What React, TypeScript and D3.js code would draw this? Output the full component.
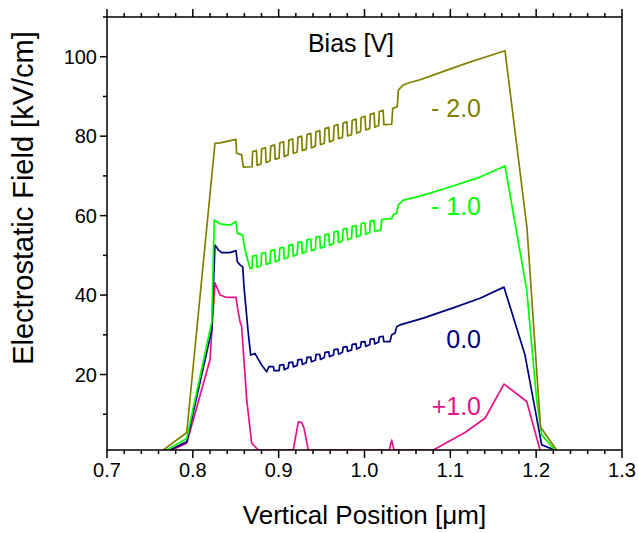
import React from 'react';
import * as d3 from 'd3';

const W = 639;
const H = 533;
const plotLeft = 107;
const plotRight = 622;
const plotTop = 17;
const plotBottom = 450;

const xDomain: [number, number] = [0.7, 1.3];
const yDomain: [number, number] = [1, 110];
const xMajorTicks = [0.7, 0.8, 0.9, 1.0, 1.1, 1.2, 1.3];
const xTickLabels = ['0.7', '0.8', '0.9', '1.0', '1.1', '1.2', '1.3'];
const yMajorTicks = [20, 40, 60, 80, 100];
const yTickLabels = ['20', '40', '60', '80', '100'];
const yMinorTicks = [10, 30, 50, 70, 90, 110];

const seriesNames = ['- 2.0', '- 1.0', '0.0', '+1.0'];
const seriesColors = ['#808000', '#00ff00', '#000080', '#e8128a'];
const labelY = [117, 215, 348, 415];

const biasM2: [number, number][] = [
  [0.7656, 1], [0.7929, 5.4], [0.8258, 78.2], [0.8317, 78.3], [0.8503, 79.2], [0.8509, 75.7], [0.8569, 75.3], [0.8588, 72.2],
  [0.8689, 72.3], [0.8697, 76.1], [0.8741, 76.4], [0.8749, 72.65],
  [0.8794, 73.0], [0.8802, 76.8], [0.8846, 77.1], [0.8854, 73.35],
  [0.8900, 73.8], [0.8908, 77.5], [0.8952, 77.8], [0.8960, 74.15],
  [0.9005, 74.5], [0.9013, 78.3], [0.9057, 78.6], [0.9065, 74.85],
  [0.9111, 75.3], [0.9119, 79.0], [0.9163, 79.3], [0.9171, 75.65],
  [0.9216, 76.0], [0.9224, 79.7], [0.9268, 80.0], [0.9276, 76.35],
  [0.9322, 76.7], [0.9330, 80.4], [0.9374, 80.7], [0.9382, 77.05],
  [0.9427, 77.5], [0.9435, 81.1], [0.9479, 81.4], [0.9487, 77.85],
  [0.9532, 78.2], [0.9540, 81.9], [0.9584, 82.2], [0.9592, 78.55],
  [0.9638, 79.0], [0.9646, 82.6], [0.9690, 82.9], [0.9698, 79.35],
  [0.9743, 79.7], [0.9751, 83.3], [0.9795, 83.6], [0.9803, 80.05],
  [0.9849, 80.4], [0.9857, 84.0], [0.9901, 84.3], [0.9909, 80.75],
  [0.9954, 81.2], [0.9962, 84.7], [1.0006, 85.0], [1.0014, 81.55],
  [1.0060, 81.9], [1.0068, 85.5], [1.0112, 85.8], [1.0120, 82.25],
  [1.0165, 82.7], [1.0173, 86.2], [1.0217, 86.5], [1.0225, 82.9],
  [1.0317, 83.0], [1.0329, 87.0], [1.0382, 87.4], [1.0394, 91.6], [1.0452, 92.9], [1.0530, 93.5], [1.0647, 94.2],
  [1.0880, 96.0], [1.1191, 98.4], [1.1637, 101.5], [1.1893, 56.9], [1.2051, 6.8], [1.2237, 1],
];

const biasM1: [number, number][] = [
  [0.7696, 1], [0.7929, 3.9], [0.8220, 33.2], [0.8250, 58.9], [0.8317, 57.9], [0.8433, 57.6], [0.8503, 58.5], [0.8518, 55.6],
  [0.8581, 55.1], [0.8608, 51.4], [0.8666, 46.7],
  [0.8689, 46.7], [0.8697, 49.8], [0.8741, 50.0], [0.8749, 47.0],
  [0.8794, 47.4], [0.8802, 50.5], [0.8846, 50.7], [0.8854, 47.7],
  [0.8900, 48.1], [0.8908, 51.2], [0.8952, 51.4], [0.8960, 48.4],
  [0.9005, 48.8], [0.9013, 51.8], [0.9057, 52.0], [0.9065, 49.1],
  [0.9111, 49.5], [0.9119, 52.5], [0.9163, 52.7], [0.9171, 49.8],
  [0.9216, 50.2], [0.9224, 53.2], [0.9268, 53.4], [0.9276, 50.5],
  [0.9322, 50.9], [0.9330, 53.9], [0.9374, 54.1], [0.9382, 51.2],
  [0.9427, 51.5], [0.9435, 54.6], [0.9479, 54.8], [0.9487, 51.8],
  [0.9532, 52.2], [0.9540, 55.2], [0.9584, 55.4], [0.9592, 52.5],
  [0.9638, 52.9], [0.9646, 55.9], [0.9690, 56.1], [0.9698, 53.2],
  [0.9743, 53.6], [0.9751, 56.6], [0.9795, 56.8], [0.9803, 53.9],
  [0.9849, 54.3], [0.9857, 57.3], [0.9901, 57.5], [0.9909, 54.6],
  [0.9954, 55.0], [0.9962, 58.0], [1.0006, 58.2], [1.0014, 55.3],
  [1.0060, 55.7], [1.0068, 58.6], [1.0112, 58.8], [1.0120, 56.0],
  [1.0190, 56.4], [1.0200, 59.0],
  [1.0317, 59.3], [1.0336, 60.2], [1.0375, 60.6], [1.0394, 62.7], [1.0452, 63.9], [1.0647, 64.9], [1.0996, 67.2],
  [1.1346, 69.7], [1.1637, 72.5], [1.1890, 41.3], [1.2006, 13.6], [1.2064, 4.8], [1.2219, 1],
];

const bias0: [number, number][] = [
  [0.7734, 1], [0.7929, 3.1], [0.8220, 31.2], [0.8258, 52.6], [0.8297, 51.4], [0.8336, 50.7], [0.8433, 50.7], [0.8503, 51.2],
  [0.8518, 48.4], [0.8550, 47.6], [0.8581, 47.1], [0.8596, 42.1], [0.8646, 30.4], [0.8674, 24.9], [0.8724, 25.3], [0.8763, 23.8],
  [0.8802, 22.4], [0.8861, 20.7], [0.8887, 22.0], [0.8938, 22.0], [0.8946, 21.0],
  [0.9005, 21.0], [0.9013, 22.4], [0.9057, 22.5], [0.9065, 21.2],
  [0.9111, 21.7], [0.9119, 23.0], [0.9163, 23.1], [0.9171, 21.9],
  [0.9216, 22.3], [0.9224, 23.7], [0.9268, 23.8], [0.9276, 22.5],
  [0.9322, 23.0], [0.9330, 24.3], [0.9374, 24.4], [0.9382, 23.2],
  [0.9427, 23.6], [0.9435, 25.0], [0.9479, 25.1], [0.9487, 23.8],
  [0.9532, 24.3], [0.9540, 25.6], [0.9584, 25.7], [0.9592, 24.5],
  [0.9638, 24.9], [0.9646, 26.3], [0.9690, 26.4], [0.9698, 25.1],
  [0.9743, 25.6], [0.9751, 26.9], [0.9795, 27.0], [0.9803, 25.8],
  [0.9849, 26.2], [0.9857, 27.6], [0.9901, 27.7], [0.9909, 26.4],
  [0.9954, 26.9], [0.9962, 28.2], [1.0006, 28.3], [1.0014, 27.1],
  [1.0060, 27.5], [1.0068, 28.9], [1.0112, 29.0], [1.0120, 27.7],
  [1.0165, 28.2], [1.0173, 29.5], [1.0217, 29.6], [1.0225, 28.3],
  [1.0297, 28.3], [1.0317, 30.0], [1.0355, 30.4], [1.0375, 32.0], [1.0414, 32.5], [1.0685, 34.2], [1.1074, 37.1],
  [1.1346, 39.2], [1.1625, 42.0], [1.1870, 24.9], [1.1967, 13.6], [1.2064, 2.3], [1.2219, 1],
];

const biasP1: [number, number][] = [
  [0.7754, 1], [0.7929, 2.7], [0.8200, 23.7], [0.8258, 43.1], [0.8317, 40.0], [0.8395, 39.4], [0.8503, 39.4], [0.8518, 37.1],
  [0.8550, 33.3], [0.8569, 32.0], [0.8628, 13.6], [0.8686, 2.7], [0.8763, 1], [0.9170, 1], [0.9229, 8.1], [0.9268, 7.9],
  [0.9295, 6.5], [0.9345, 1], [1.0289, 1], [1.0317, 3.5], [1.0344, 1], [1.0802, 1], [1.1171, 5.4], [1.1404, 9.0],
  [1.1625, 17.6], [1.1890, 13.2], [1.2045, 1],
];

const seriesData = [biasM2, biasM1, bias0, biasP1];

const FONT = '"Liberation Sans", Arial, sans-serif';

export default function App() {
  const x = d3.scaleLinear().domain(xDomain).range([plotLeft, plotRight]);
  const y = d3.scaleLinear().domain(yDomain).range([plotBottom, plotTop]);
  const line = d3
    .line<[number, number]>()
    .x((d) => x(d[0]))
    .y((d) => y(d[1]));

  const xMinor = d3.range(0, 31).map((i) => 0.7 + i * 0.02).filter((v) => !xMajorTicks.some((m) => Math.abs(m - v) < 1e-6));
  const axisStroke = 1.5;
  const drawOrder = [3, 2, 1, 0];

  return (
    <svg width={W} height={H} style={{ position: 'absolute', left: 0, top: 0, background: '#fff' }}>
      <rect x={0} y={0} width={W} height={H} fill="#fff" />
      <defs>
        <clipPath id="plotclip">
          <rect x={plotLeft} y={plotTop} width={plotRight - plotLeft} height={plotBottom - plotTop} />
        </clipPath>
      </defs>
      <g clipPath="url(#plotclip)">
        {drawOrder.map((i) => (
          <path key={i} d={line(seriesData[i]) || ''} fill="none" stroke={seriesColors[i]} strokeWidth={1.7} strokeLinejoin="round" />
        ))}
      </g>
      <rect x={plotLeft} y={plotTop} width={plotRight - plotLeft} height={plotBottom - plotTop} fill="none" stroke="#000" strokeWidth={axisStroke} />
      {xMajorTicks.map((v) => (
        <g key={'xm' + v}>
          <line x1={x(v)} x2={x(v)} y1={plotBottom} y2={plotBottom + 8} stroke="#000" strokeWidth={axisStroke} />
          <line x1={x(v)} x2={x(v)} y1={plotTop} y2={plotTop - 8} stroke="#000" strokeWidth={axisStroke} />
        </g>
      ))}
      {xMinor.map((v) => (
        <g key={'xn' + v}>
          <line x1={x(v)} x2={x(v)} y1={plotBottom} y2={plotBottom + 4} stroke="#000" strokeWidth={axisStroke} />
          <line x1={x(v)} x2={x(v)} y1={plotTop} y2={plotTop - 4} stroke="#000" strokeWidth={axisStroke} />
        </g>
      ))}
      {xMajorTicks.map((v, i) => (
        <text key={'xl' + v} x={x(v)} y={477} textAnchor="middle" fontFamily={FONT} fontSize={20}>
          {xTickLabels[i]}
        </text>
      ))}
      {yMajorTicks.map((v, i) => (
        <g key={'ym' + v}>
          <line x1={plotLeft} x2={plotLeft - 7} y1={y(v)} y2={y(v)} stroke="#000" strokeWidth={axisStroke} />
          <text x={plotLeft - 10} y={y(v) + 7} textAnchor="end" fontFamily={FONT} fontSize={20}>
            {yTickLabels[i]}
          </text>
        </g>
      ))}
      {yMinorTicks.map((v) => (
        <line key={'yn' + v} x1={plotLeft} x2={plotLeft - 4} y1={y(v)} y2={y(v)} stroke="#000" strokeWidth={axisStroke} />
      ))}
      <text x={(plotLeft + plotRight) / 2} y={524} textAnchor="middle" fontFamily={FONT} fontSize={26}>
        Vertical Position [μm]
      </text>
      <text
        transform={`translate(33, 198) rotate(-90)`}
        textAnchor="middle"
        fontFamily={FONT}
        fontSize={29}
      >
        Electrostatic Field [kV/cm]
      </text>
      <text x={351} y={52} textAnchor="middle" fontFamily={FONT} fontSize={25}>
        Bias [V]
      </text>
      {seriesNames.map((n, i) => (
        <text key={n} x={481} y={labelY[i]} textAnchor="end" fontFamily={FONT} fontSize={25} fill={seriesColors[i]}>
          {n}
        </text>
      ))}
    </svg>
  );
}
